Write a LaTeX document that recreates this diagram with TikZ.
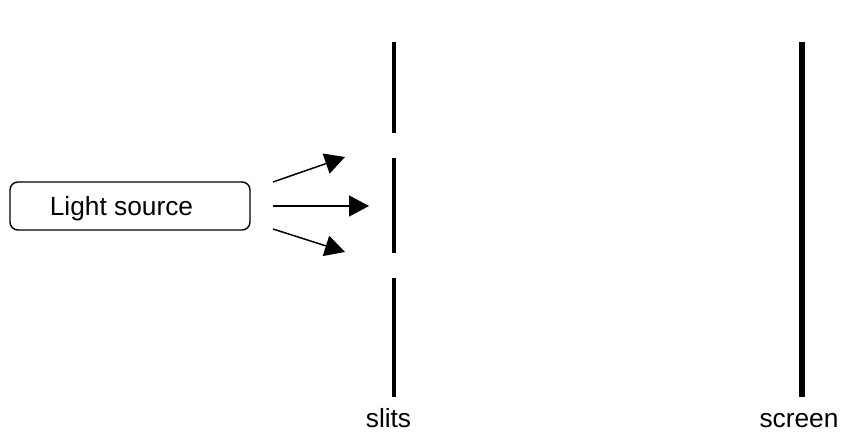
\documentclass[tikz,border=0pt]{standalone}
\usepackage{fontspec}
\setmainfont{Liberation Sans}
\usetikzlibrary{arrows.meta}
\begin{document}
\begin{tikzpicture}[x=1pt,y=-1pt,
  lbl/.style={font=\fontsize{26.3}{30}\selectfont, inner sep=0pt},
  srcbox/.style={draw, line width=1.4pt, rounded corners=8pt, minimum width=240pt, minimum height=48pt, inner sep=0pt},
  ray/.style={line width=1.5pt, -{Triangle[length=20pt,width=21pt]}},
  barrier/.style={line width=4.2pt},
  wall/.style={line width=5.5pt}]
\useasboundingbox (0,0) rectangle (842,433);
% light source
\node[srcbox] (src) at (130,206) {};
\node[lbl, anchor=base] (srctxt) at (121.5,215) {Light source};
% rays leaving the source
\coordinate (r1a) at (273,182); \coordinate (r1b) at (345,157);
\coordinate (r2a) at (273,206); \coordinate (r2b) at (369,206);
\coordinate (r3a) at (273,229); \coordinate (r3b) at (345,252);
\draw[ray] (r1a) -- (r1b);
\draw[ray] (r2a) -- (r2b);
\draw[ray] (r3a) -- (r3b);
% barrier with two slits
\coordinate (s1) at (394,42);  \coordinate (s2) at (394,133);
\coordinate (s3) at (394,158); \coordinate (s4) at (394,253);
\coordinate (s5) at (394,278); \coordinate (s6) at (394,397);
\draw[barrier] (s1) -- (s2);
\draw[barrier] (s3) -- (s4);
\draw[barrier] (s5) -- (s6);
% screen
\coordinate (w1) at (802,42); \coordinate (w2) at (802,397);
\draw[wall] (w1) -- (w2);
% labels
\node[lbl, anchor=base] (slits) at (388.5,427) {slits};
\node[lbl, anchor=base] (screen) at (799,427) {screen};
\end{tikzpicture}
\end{document}
